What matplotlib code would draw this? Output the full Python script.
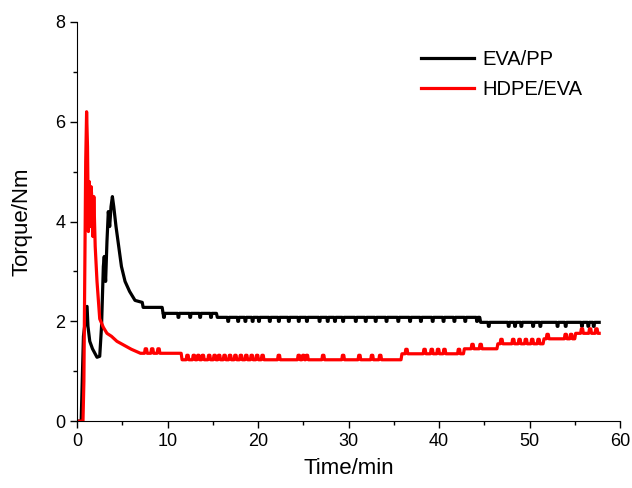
import numpy as np
import matplotlib.pyplot as plt
from matplotlib.ticker import MultipleLocator

plt.rcParams['font.family'] = ['Liberation Sans', 'DejaVu Sans']

# EVA/PP torque curve (base shape)
eva_pp_t = [0, 0.45, 0.7, 0.9, 1.1, 1.2, 1.4, 1.7, 2.0, 2.2, 2.5, 2.7, 2.9, 3.0, 3.15,
            3.3, 3.45, 3.6, 3.75, 3.9, 4.05, 4.3, 4.6, 4.9, 5.3, 5.8, 6.4, 7.2, 7.3,
            9.4, 9.5, 15.4, 15.5, 44.5, 44.6, 57.7]
eva_pp_v = [0, 0, 1.7, 2.0, 2.3, 1.9, 1.6, 1.45, 1.35, 1.28, 1.3, 1.9, 3.1, 3.3, 2.8,
            3.6, 4.2, 3.9, 4.3, 4.5, 4.3, 3.9, 3.5, 3.1, 2.8, 2.6, 2.42, 2.38, 2.28,
            2.28, 2.16, 2.16, 2.08, 2.08, 1.98, 1.98]
# small downward blips in the EVA/PP plateau
eva_pp_dips = [9.6, 11.2, 12.5, 13.6, 14.8, 16.7, 17.8, 18.6, 19.4, 20.1, 21.3, 22.3,
               23.4, 24.5, 25.4, 26.8, 27.7, 28.5, 29.4, 30.8, 31.9, 33.0, 34.2,
               35.5, 36.8, 38.0, 39.3, 40.5, 41.7, 42.9, 44.2, 45.5, 47.7, 48.4,
               49.1, 50.4, 51.2, 53.1, 54.0, 55.8, 56.5, 57.1]

# HDPE/EVA torque curve
hdpe_eva_t = [0, 0.65, 0.75, 0.85, 0.95, 1.05, 1.15, 1.25, 1.35, 1.45, 1.55, 1.65,
              1.75, 1.85, 2.0, 2.2, 2.5, 2.9, 3.3, 3.8, 4.4, 5.2, 6.0, 7.0, 11.5,
              11.6, 35.8, 35.9, 42.7, 42.8, 46.4, 46.5, 51.5, 51.6, 55.0, 55.1, 57.7]
hdpe_eva_v = [0, 0, 0.8, 3.0, 5.2, 6.2, 5.5, 3.8, 4.8, 3.9, 4.7, 4.4,
              3.7, 4.5, 3.5, 2.8, 2.05, 1.88, 1.76, 1.7, 1.6, 1.52, 1.44, 1.36, 1.36,
              1.23, 1.23, 1.35, 1.35, 1.45, 1.45, 1.55, 1.55, 1.65, 1.65, 1.76, 1.76]
# small upward bumps on the HDPE/EVA plateau
hdpe_eva_bumps = [7.6, 8.3, 9.0, 12.2, 12.9, 13.4, 13.9, 14.6, 15.2, 15.7, 16.3, 16.9,
                  17.5, 18.1, 18.7, 19.3, 19.9, 20.5, 22.3, 24.5, 25.0, 25.4, 27.2,
                  29.4, 31.2, 32.6, 33.5, 36.4, 38.4, 39.2, 39.9, 40.6, 42.2, 43.7,
                  44.6, 46.9, 48.2, 48.9, 49.6, 50.3, 51.0, 52.0, 54.0, 54.6, 55.8,
                  56.7, 57.4]


def add_blips(t, v, blips, step, w=0.16):
    pts = list(zip(t, v))
    for b in blips:
        base = np.interp(b, t, v)
        pts += [(b - w / 2, base), (b - w / 4, base + step),
                (b + w / 4, base + step), (b + w / 2, base)]
    pts = sorted(pts, key=lambda p: p[0])
    return [p[0] for p in pts], [p[1] for p in pts]


bx, by = add_blips(eva_pp_t, eva_pp_v, eva_pp_dips, -0.08)
rx, ry = add_blips(hdpe_eva_t, hdpe_eva_v, hdpe_eva_bumps, 0.09, w=0.3)

fig = plt.figure(figsize=(6.32, 4.88), dpi=100)
ax = fig.add_axes([0.122, 0.137, 0.859, 0.818])

ax.plot(bx, by, color='black', lw=2.3, label='EVA/PP')
ax.plot(rx, ry, color='red', lw=2.3, label='HDPE/EVA')

ax.set_xlim(0, 60)
ax.set_ylim(0, 8)
ax.xaxis.set_major_locator(MultipleLocator(10))
ax.xaxis.set_minor_locator(MultipleLocator(5))
ax.yaxis.set_major_locator(MultipleLocator(2))
ax.yaxis.set_minor_locator(MultipleLocator(1))
ax.spines['top'].set_visible(False)
ax.spines['right'].set_visible(False)
ax.tick_params(which='major', direction='out', length=5, width=1, labelsize=13)
ax.tick_params(which='minor', direction='out', length=3, width=1)

ax.set_xlabel('Time/min', fontsize=16, labelpad=6)
ax.set_ylabel('Torque/Nm', fontsize=16, labelpad=16)

ax.legend(loc='upper right', bbox_to_anchor=(0.965, 0.975), frameon=False,
          fontsize=14.5, handlelength=2.6, handletextpad=0.45, labelspacing=0.55)

plt.savefig('out.png', dpi=100)
